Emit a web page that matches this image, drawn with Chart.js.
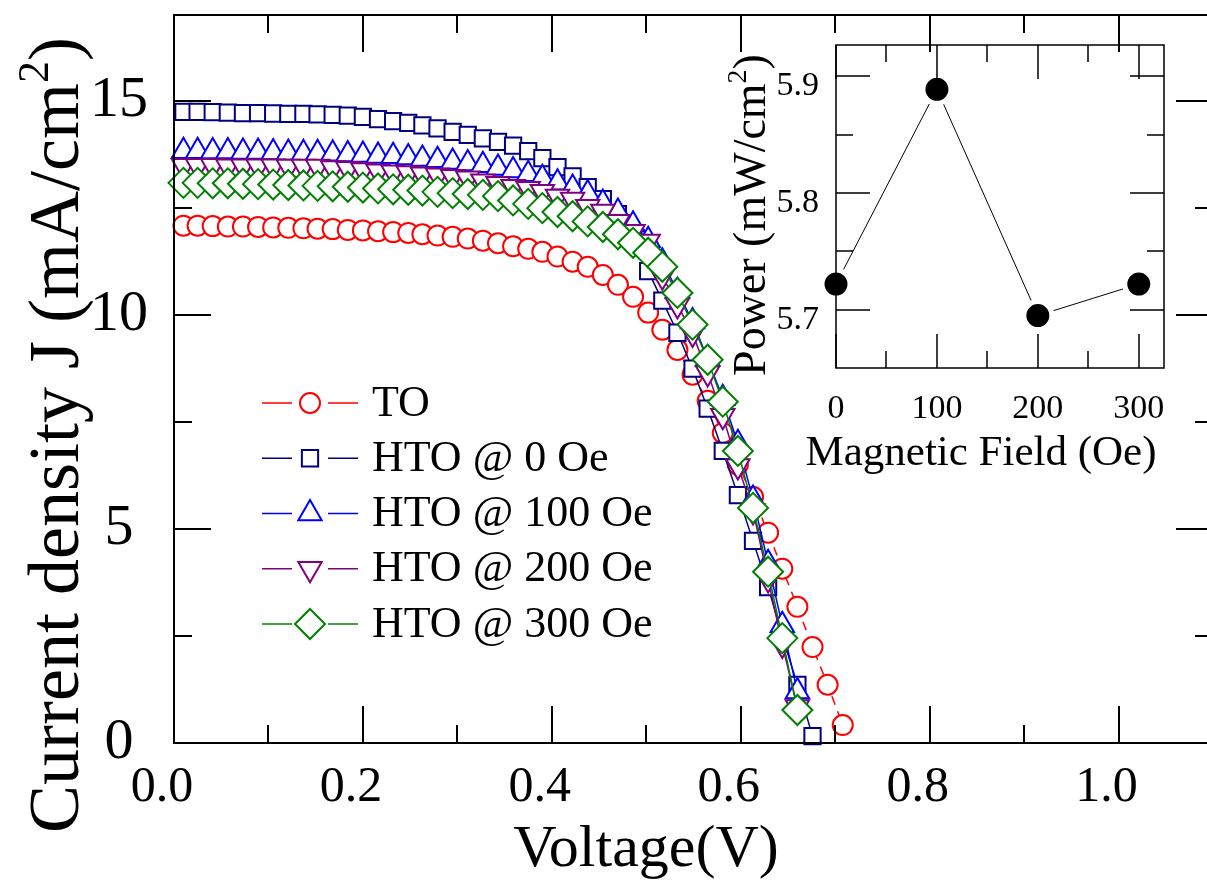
<!DOCTYPE html>
<html>
<head>
<meta charset="utf-8">
<script src="https://cdn.jsdelivr.net/npm/chart.js@4/dist/chart.umd.min.js"></script>
<style>
html, body { margin: 0; padding: 0; overflow: hidden; background: #fff; }
#wrap { position: relative; width: 1207px; height: 890px; overflow: hidden; }
#main { position: absolute; left: 0; top: 0; }
#inset { position: absolute; left: 700px; top: 0; }
</style>
</head>
<body>
<div id="wrap">
<canvas id="main" width="1215" height="890"></canvas>
<canvas id="inset" width="507" height="490"></canvas>
</div>
<script>
// J-V curves, shared voltage grid (V)
const voltage = [0.010, 0.025, 0.041, 0.057, 0.073, 0.089, 0.105, 0.121, 0.137, 0.152,
  0.168, 0.184, 0.200, 0.216, 0.232, 0.248, 0.263, 0.279, 0.295, 0.311,
  0.327, 0.343, 0.359, 0.375, 0.390, 0.406, 0.422, 0.438, 0.454, 0.470,
  0.486, 0.502, 0.517, 0.533, 0.549, 0.565, 0.581, 0.597, 0.613, 0.629,
  0.644, 0.660, 0.676, 0.692, 0.708];

// current density (mA/cm2)
const jTO = [12.08, 12.08, 12.07, 12.06, 12.06, 12.05, 12.04, 12.03, 12.02, 12.01,
  12.00, 11.98, 11.97, 11.95, 11.93, 11.91, 11.88, 11.85, 11.82, 11.78,
  11.73, 11.67, 11.60, 11.54, 11.47, 11.36, 11.24, 11.12, 10.93, 10.70,
  10.42, 10.05, 9.65, 9.18, 8.60, 7.99, 7.24, 6.50, 5.75, 4.91,
  4.07, 3.18, 2.24, 1.36, 0.42];
const jHTO0 = [14.74, 14.74, 14.73, 14.72, 14.71, 14.71, 14.70, 14.69, 14.69, 14.68,
  14.67, 14.65, 14.62, 14.57, 14.52, 14.48, 14.42, 14.35, 14.27, 14.20,
  14.12, 14.04, 13.95, 13.82, 13.66, 13.45, 13.23, 12.98, 12.70, 12.35,
  11.80, 11.02, 10.33, 9.58, 8.74, 7.81, 6.82, 5.79, 4.72, 3.64,
  2.50, 1.36, 0.16];
const jHTO100 = [13.82, 13.82, 13.81, 13.81, 13.80, 13.80, 13.79, 13.78, 13.77, 13.77,
  13.76, 13.74, 13.73, 13.71, 13.70, 13.67, 13.64, 13.61, 13.57, 13.53,
  13.49, 13.43, 13.37, 13.28, 13.19, 13.08, 12.96, 12.83, 12.61, 12.40,
  12.10, 11.74, 11.24, 10.55, 9.84, 8.97, 8.05, 7.00, 5.70, 4.20,
  2.75, 1.20];
const jHTO200 = [13.48, 13.48, 13.48, 13.47, 13.47, 13.47, 13.47, 13.46, 13.46, 13.46,
  13.43, 13.41, 13.38, 13.35, 13.33, 13.31, 13.28, 13.26, 13.22, 13.19,
  13.12, 13.06, 12.99, 12.94, 12.87, 12.76, 12.69, 12.52, 12.41, 12.17,
  11.94, 11.71, 10.90, 10.23, 9.56, 8.64, 7.64, 6.47, 5.42, 3.83,
  2.30, 0.84];
const jHTO300 = [13.08, 13.08, 13.07, 13.07, 13.06, 13.05, 13.04, 13.03, 13.02, 13.01,
  13.00, 12.99, 12.97, 12.95, 12.93, 12.92, 12.90, 12.87, 12.84, 12.82,
  12.80, 12.77, 12.67, 12.59, 12.49, 12.40, 12.30, 12.18, 12.05, 11.88,
  11.68, 11.45, 11.12, 10.51, 9.77, 8.95, 7.97, 6.82, 5.49, 4.00,
  2.45, 0.77];

// inset: power vs magnetic field
const fieldOe = [0, 100, 200, 300];
const power = [5.722, 5.889, 5.695, 5.722];

// ticks
const vTicks = [0, 0.2, 0.4, 0.6, 0.8, 1.0];
const vMinor = [0.1, 0.3, 0.5, 0.7, 0.9, 1.1];
const jTicks = [0, 5, 10, 15];
const jMinor = [2.5, 7.5, 12.5];
const fieldTicks = [0, 100, 200, 300];
const fieldMinor = [50, 150, 250];
const powerTicks = [5.7, 5.8, 5.9];
const powerMinor = [5.75, 5.85];

const serif = "'Liberation Serif', 'Times New Roman', serif";

const series = [
  { label: 'TO', ys: jTO, color: '#ff0000', style: 'circle', r: 10, rot: 0, dash: [9, 7] },
  { label: 'HTO @ 0 Oe', ys: jHTO0, color: '#000080', style: 'rect', r: 11.5, rot: 0, dash: [] },
  { label: 'HTO @ 100 Oe', ys: jHTO100, color: '#0000ff', style: 'triangle', r: 13.5, rot: 0, dash: [] },
  { label: 'HTO @ 200 Oe', ys: jHTO200, color: '#800080', style: 'triangle', r: 13.5, rot: 180, dash: [] },
  { label: 'HTO @ 300 Oe', ys: jHTO300, color: '#008000', style: 'rectRot', r: 15, rot: 0, dash: [] }
];

function frame(chart, o) {
  const { ctx, chartArea: a, scales: { x, y } } = chart;
  ctx.save();
  ctx.strokeStyle = '#000';
  ctx.lineWidth = o.lw;
  ctx.setLineDash([]);
  ctx.beginPath();
  const vx = (vals, len) => vals.forEach(v => {
    const p = Math.round(x.getPixelForValue(v));
    ctx.moveTo(p, a.bottom); ctx.lineTo(p, a.bottom - len);
    ctx.moveTo(p, a.top); ctx.lineTo(p, a.top + len);
  });
  const vy = (vals, len) => vals.forEach(v => {
    const p = Math.round(y.getPixelForValue(v));
    ctx.moveTo(a.left, p); ctx.lineTo(a.left + len, p);
    ctx.moveTo(a.right, p); ctx.lineTo(a.right - len, p);
  });
  vx(o.xMajor, o.major); vx(o.xMinor, o.minor);
  vy(o.yMajor, o.major); vy(o.yMinor, o.minor);
  ctx.stroke();
  ctx.strokeRect(a.left, a.top, a.right - a.left, a.bottom - a.top);
  ctx.restore();
}

// text with a superscript part, centred on (0,0) of current transform
function drawParts(ctx, parts, size, supSize) {
  const w = parts.map(p => { ctx.font = (p.sup ? supSize : size) + 'px ' + serif; return ctx.measureText(p.t).width; });
  let x = -w.reduce((s, v) => s + v, 0) / 2;
  ctx.textAlign = 'left';
  ctx.textBaseline = 'alphabetic';
  parts.forEach((p, i) => {
    ctx.font = (p.sup ? supSize : size) + 'px ' + serif;
    ctx.fillText(p.t, x, p.sup ? -size * 0.42 : 0);
    x += w[i];
  });
}

const mainDecor = {
  id: 'mainDecor',
  afterDatasetsDraw(chart) {
    const ctx = chart.ctx;
    frame(chart, { xMajor: vTicks, xMinor: vMinor, yMajor: jTicks, yMinor: jMinor, major: 37, minor: 18, lw: 2 });

    ctx.save();
    ctx.fillStyle = '#000';
    ctx.font = '60px ' + serif;
    ctx.textAlign = 'center';
    ctx.textBaseline = 'alphabetic';
    ctx.fillText('Voltage(V)', 646, 866);
    ctx.translate(78, 435);
    ctx.rotate(-Math.PI / 2);
    drawParts(ctx, [{ t: 'Current density J (mA/cm' }, { t: '2', sup: true }, { t: ')' }], 72, 44);
    ctx.restore();

    // legend
    ctx.save();
    series.forEach((s, k) => {
      const yy = 403 + k * 55.25;
      ctx.strokeStyle = s.color;
      ctx.lineWidth = 1.5;
      ctx.setLineDash([]);
      ctx.beginPath();
      ctx.moveTo(262, yy); ctx.lineTo(292, yy);
      ctx.moveTo(328, yy); ctx.lineTo(358, yy);
      ctx.stroke();
      ctx.fillStyle = '#fff';
      ctx.lineWidth = 2;
      Chart.helpers.drawPoint(ctx, { pointStyle: s.style, rotation: s.rot, radius: s.r, borderWidth: 2 }, 310, yy);
      ctx.fillStyle = '#000';
      ctx.font = '44px ' + serif;
      ctx.textAlign = 'left';
      ctx.textBaseline = 'middle';
      ctx.fillText(s.label, 372, yy + 1);
    });
    ctx.restore();
  }
};

new Chart(document.getElementById('main'), {
  type: 'scatter',
  data: {
    datasets: series.map((s, k) => ({
      label: s.label,
      data: s.ys.map((j, i) => ({ x: voltage[i], y: j })),
      showLine: true,
      borderColor: s.color,
      borderWidth: 1.5,
      borderDash: s.dash,
      pointStyle: s.style,
      pointRotation: s.rot,
      pointRadius: s.r,
      pointBorderWidth: 2,
      pointBorderColor: s.color,
      pointBackgroundColor: '#fff',
      fill: false,
      tension: 0,
      order: 5 - k,
      clip: false
    }))
  },
  options: {
    responsive: false,
    animation: false,
    events: [],
    layout: { autoPadding: false, padding: { top: 15, right: 2, left: 0, bottom: 0 } },
    plugins: { legend: { display: false }, tooltip: { enabled: false } },
    scales: {
      x: {
        type: 'linear', min: 0, max: 1.1,
        afterFit(s) { s.height = 147; s.paddingLeft = 0; s.paddingRight = 0; },
        afterBuildTicks(s) { s.ticks = vTicks.map(v => ({ value: v })); },
        grid: { display: false },
        border: { display: false },
        ticks: { font: { family: serif, size: 50 }, color: '#000', padding: 7, labelOffset: -12,
          maxRotation: 0, autoSkip: false, callback: v => v.toFixed(1) }
      },
      y: {
        type: 'linear', min: 0, max: 17,
        afterFit(s) { s.width = 174; s.paddingTop = 0; s.paddingBottom = 0; },
        afterBuildTicks(s) { s.ticks = jTicks.map(v => ({ value: v })); },
        grid: { display: false },
        border: { display: false },
        ticks: { font: { family: serif, size: 58 }, color: '#000', padding: 18, crossAlign: 'center',
          callback: v => String(v) }
      }
    }
  },
  plugins: [mainDecor]
});

const insetDecor = {
  id: 'insetDecor',
  afterDatasetsDraw(chart) {
    const ctx = chart.ctx;
    frame(chart, { xMajor: fieldTicks, xMinor: fieldMinor, yMajor: powerTicks, yMinor: powerMinor, major: 34, minor: 17, lw: 1.5 });
    ctx.save();
    ctx.fillStyle = '#000';
    ctx.font = '43px ' + serif;
    ctx.textAlign = 'center';
    ctx.textBaseline = 'alphabetic';
    ctx.fillText('Magnetic Field (Oe)', 281, 465);
    ctx.translate(65, 215);
    ctx.rotate(-Math.PI / 2);
    drawParts(ctx, [{ t: 'Power (mW/cm' }, { t: '2', sup: true }, { t: ')' }], 46, 28);
    ctx.restore();
  }
};

new Chart(document.getElementById('inset'), {
  type: 'scatter',
  data: {
    datasets: [{
      label: 'Power',
      data: fieldOe.map((f, i) => ({ x: f, y: power[i] })),
      showLine: true,
      borderColor: '#000',
      borderWidth: 1,
      pointStyle: 'circle',
      pointRadius: 14,
      pointBorderWidth: 5,
      pointBorderColor: '#fff',
      pointBackgroundColor: '#000',
      clip: false
    }]
  },
  options: {
    responsive: false,
    animation: false,
    events: [],
    layout: { autoPadding: false, padding: { top: 45, right: 43, left: 0, bottom: 0 } },
    plugins: { legend: { display: false }, tooltip: { enabled: false } },
    scales: {
      x: {
        type: 'linear', min: 0, max: 325,
        afterFit(s) { s.height = 122; s.paddingLeft = 0; s.paddingRight = 0; },
        afterBuildTicks(s) { s.ticks = fieldTicks.map(v => ({ value: v })); },
        grid: { display: false },
        border: { display: false },
        ticks: { font: { family: serif, size: 34 }, color: '#000', padding: 13, maxRotation: 0, autoSkip: false,
          callback: v => String(v) }
      },
      y: {
        type: 'linear', min: 5.65, max: 5.927,
        afterFit(s) { s.width = 136; s.paddingTop = 0; s.paddingBottom = 0; },
        afterBuildTicks(s) { s.ticks = powerTicks.map(v => ({ value: v })); },
        grid: { display: false },
        border: { display: false },
        ticks: { font: { family: serif, size: 34 }, color: '#000', padding: 9, labelOffset: 10,
          callback: v => v.toFixed(1) }
      }
    }
  },
  plugins: [insetDecor]
});
</script>
</body>
</html>
